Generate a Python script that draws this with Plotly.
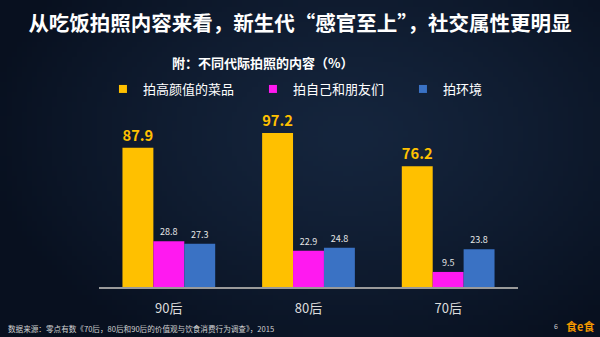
import base64
import struct
import zlib

import plotly.graph_objects as go

# Generations and shares (%) of what people photograph at meals
generations = ["90后", "80后", "70后"]
series_names = ["拍高颜值的菜品", "拍自己和朋友们", "拍环境"]
dishes = [87.9, 97.2, 76.2]
selfies = [28.8, 22.9, 9.5]
scenery = [27.3, 24.8, 23.8]

title_text = "从吃饭拍照内容来看，新生代“感官至上”，社交属性更明显"
subtitle_text = "附：不同代际拍照的内容（%）"
source_text = "数据来源：零点有数《70后，80后和90后的价值观与饮食消费行为调查》，2015"

W, H = 600, 337
ML, MR, MT, MB = 99, 82, 128, 50
PW, PH = W - ML - MR, H - MT - MB


def px_x(x):
    return (x - ML) / PW


def px_y(y):
    return (H - MB - y) / PH


def night_sky_png(w=120, h=68):
    """Small radial-gradient PNG, stretched behind the figure."""
    inner, outer = (21, 37, 61), (8, 16, 31)
    cx, cy = 0.58, 0.40
    rows = []
    for j in range(h):
        row = bytearray([0])
        for i in range(w):
            dx = (i / (w - 1) - cx) / 0.62
            dy = (j / (h - 1) - cy) / 0.75
            t = min(1.0, (dx * dx + dy * dy) ** 0.5)
            t = t ** 1.3
            row.extend(int(a + (b - a) * t) for a, b in zip(inner, outer))
        rows.append(bytes(row))
    raw = b"".join(rows)

    def chunk(tag, data):
        c = struct.pack(">I", len(data)) + tag + data
        return c + struct.pack(">I", zlib.crc32(tag + data) & 0xFFFFFFFF)

    png = b"\x89PNG\r\n\x1a\n"
    png += chunk(b"IHDR", struct.pack(">IIBBBBB", w, h, 8, 2, 0, 0, 0))
    png += chunk(b"IDAT", zlib.compress(raw, 9))
    png += chunk(b"IEND", b"")
    return "data:image/png;base64," + base64.b64encode(png).decode()


CJK = "Noto Sans CJK SC"
colors = ["#FFC000", "#FF19F0", "#3A72C4"]
values = [dishes, selfies, scenery]

fig = go.Figure()
for name, vals, col in zip(series_names, values, colors):
    big = col == "#FFC000"
    fig.add_trace(go.Bar(
        x=generations, y=vals, name=name, showlegend=False,
        marker=dict(color=col, line=dict(width=0)),
        text=[f"{v:.1f}" for v in vals], textposition="outside",
        textfont=dict(family=CJK, size=15 if big else 9,
                      color="#FFC000" if big else "#E6E6E6",
                      weight="bold" if big else "normal"),
        cliponaxis=False,
    ))

# legend entries with small square keys
for name, col in zip(series_names, colors):
    fig.add_trace(go.Scatter(
        x=[None], y=[None], mode="markers", name=name,
        marker=dict(symbol="square", size=8, color=col),
    ))

annotations = [
    dict(text=f"<b>{subtitle_text}</b>", x=px_x(263), y=px_y(62),
         font=dict(family=CJK, size=13, color="#FFFFFF")),
    dict(text=source_text, x=px_x(6), y=px_y(328), xanchor="left",
         font=dict(family=CJK, size=7.6, color="#D0D0D0")),
    dict(text="6", x=px_x(556), y=px_y(326),
         font=dict(family=CJK, size=7, color="#D0D0D0")),
    dict(text="<b>食e食</b>", x=px_x(580), y=px_y(326),
         font=dict(family=CJK, size=11, color="#F39800")),
]
for a in annotations:
    a.setdefault("xanchor", "center")
    a.update(xref="paper", yref="paper", yanchor="middle", showarrow=False)

fig.update_layout(
    width=W, height=H,
    margin=dict(l=ML, r=MR, t=MT, b=MB),
    paper_bgcolor="#0C1829", plot_bgcolor="rgba(0,0,0,0)",
    images=[dict(source=night_sky_png(), xref="paper", yref="paper",
                 x=px_x(0), y=px_y(0), sizex=W / PW, sizey=H / PH,
                 xanchor="left", yanchor="top", sizing="stretch",
                 layer="below")],
    title=dict(text=f"<b>{title_text}</b>", x=0.5, xanchor="center",
               y=1 - 24 / H, yanchor="middle",
               font=dict(family=CJK, size=20.5, color="#FFFFFF")),
    barmode="group", bargap=0.336, bargroupgap=0,
    legend=dict(orientation="h", x=-0.0001, xanchor="left", indentation=4,
                y=px_y(89), yanchor="middle", entrywidth=101,
                font=dict(family=CJK, size=13, color="#FFFFFF"),
                bgcolor="rgba(0,0,0,0)"),
    xaxis=dict(range=[-0.5, 2.5], showline=True, linecolor="#9A9A9A",
               linewidth=2, ticks="", ticklabelstandoff=8,
               tickfont=dict(family=CJK, size=13, color="#DDDDDD"),
               showgrid=False, zeroline=False, fixedrange=True),
    yaxis=dict(range=[0, 100.3], visible=False, showgrid=False,
               zeroline=False, fixedrange=True),
    annotations=annotations,
    font=dict(family=CJK),
)

fig.write_html("out.html")
